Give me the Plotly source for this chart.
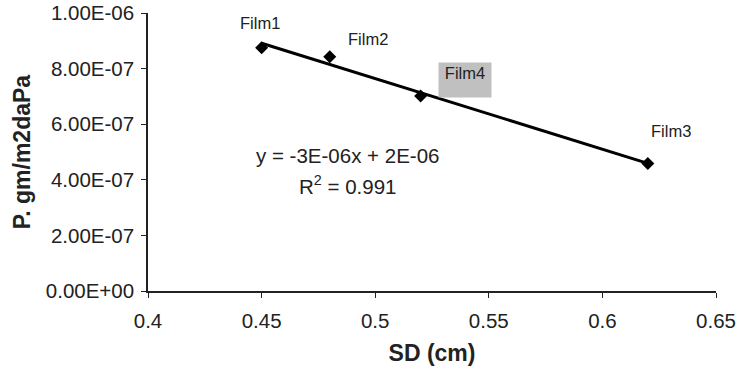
import numpy as np
import plotly.graph_objects as go

# Data
films = ["Film1", "Film2", "Film4", "Film3"]
sd_cm = [0.45, 0.48, 0.52, 0.62]
permeability = [8.75e-7, 8.43e-7, 7.01e-7, 4.59e-7]
x_ticks = [0.4, 0.45, 0.5, 0.55, 0.6, 0.65]
y_ticks = [0, 2e-7, 4e-7, 6e-7, 8e-7, 1e-6]
y_tick_labels = ["0.00E+00", "2.00E-07", "4.00E-07", "6.00E-07", "8.00E-07", "1.00E-06"]
equation_text = "y = -3E-06x + 2E-06"
r2_text = "R<sup>2</sup> = 0.991"

# linear trendline (fit of the data)
slope, intercept = np.polyfit(sd_cm, permeability, 1)
tx = [min(sd_cm), max(sd_cm)]
ty = [slope * v + intercept for v in tx]

FONT = "Liberation Sans, Arial, sans-serif"
fig = go.Figure()
fig.add_trace(go.Scatter(x=tx, y=ty, mode="lines",
                         line=dict(color="black", width=3), hoverinfo="skip"))
fig.add_trace(go.Scatter(x=sd_cm, y=permeability, mode="markers",
                         marker=dict(symbol="diamond", size=10, color="black"),
                         hoverinfo="x+y"))

# label offsets (pixels) relative to each point
offsets = {"Film1": (-2, 25), "Film2": (38, 18), "Film4": (44, 16), "Film3": (23, 32)}
for f, xv, yv in zip(films, sd_cm, permeability):
    dx, dy = offsets[f]
    kw = {}
    if f == "Film4":
        kw = dict(bgcolor="#c0c0c0", width=50, height=32, valign="top")
    fig.add_annotation(x=xv, y=yv, text=f, showarrow=False, xshift=dx, yshift=dy,
                       font=dict(family=FONT, size=16.5, color="#222"), **kw)

fig.add_annotation(x=0.488, y=4.89e-7, text=equation_text, showarrow=False,
                   font=dict(family=FONT, size=20.5, color="#222"))
fig.add_annotation(x=0.488, y=3.81e-7, text=r2_text, showarrow=False,
                   font=dict(family=FONT, size=20.5, color="#222"))

axis_common = dict(showgrid=False, zeroline=False, showline=True, linecolor="#222",
                   linewidth=1.5, ticks="outside", ticklen=5, tickcolor="#222",
                   automargin=False,
                   tickfont=dict(family=FONT, size=20.5, color="#222"))
fig.update_xaxes(range=[0.4, 0.65], tickvals=x_ticks,
                 ticktext=[f"{v:g}" for v in x_ticks], ticklabelstandoff=6,
                 title=dict(text="<b>SD (cm)</b>", font=dict(family=FONT, size=23, color="#222"),
                            standoff=16),
                 **axis_common)
fig.update_yaxes(range=[0, 1e-6], tickvals=y_ticks, ticktext=y_tick_labels,
                 ticklabelstandoff=3,
                 title=dict(text="<b>P. gm/m2daPa</b>", font=dict(family=FONT, size=23, color="#222"),
                            standoff=9),
                 **axis_common)
fig.update_layout(width=744, height=366, showlegend=False,
                  margin=dict(l=148, r=28, t=13, b=75),
                  plot_bgcolor="white", paper_bgcolor="white")
fig.write_html("out.html")
